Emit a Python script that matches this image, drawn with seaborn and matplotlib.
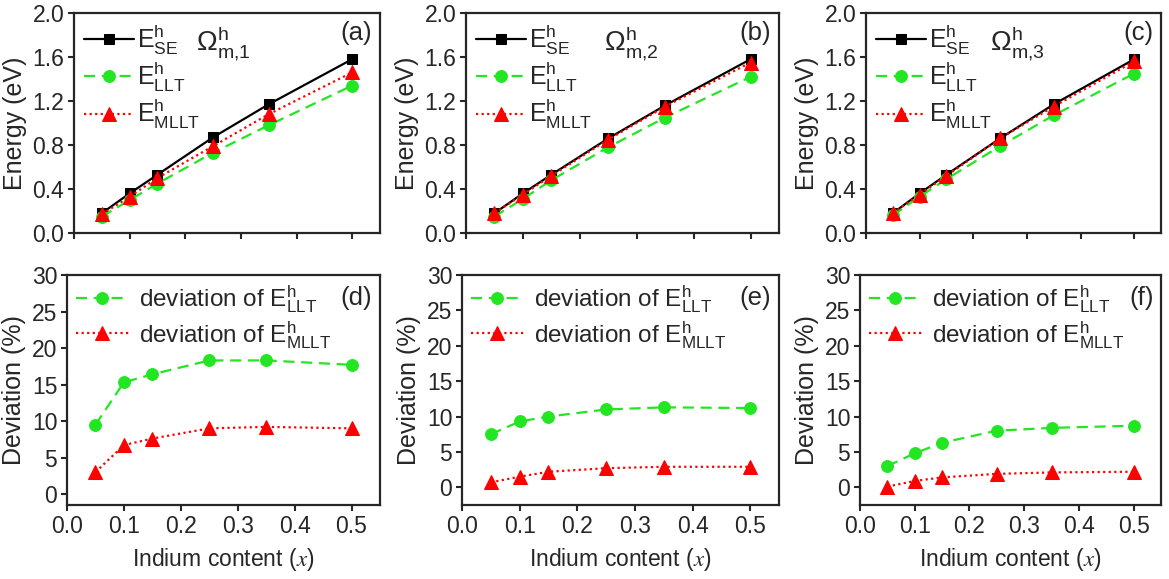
import matplotlib
matplotlib.use("Agg")
import matplotlib.pyplot as plt
import seaborn as sns
import pandas as pd

sns.set_style("ticks")
plt.rcParams['font.family'] = ['Liberation Sans', 'DejaVu Sans']
plt.rcParams['mathtext.fontset'] = 'stix'

x = [0.05, 0.10, 0.15, 0.25, 0.35, 0.50]

# Energies (eV)
se_1 = [0.18, 0.36, 0.53, 0.87, 1.17, 1.58]
llt_1 = [0.15, 0.30, 0.45, 0.73, 0.98, 1.34]
mllt_1 = [0.17, 0.33, 0.50, 0.79, 1.08, 1.46]

se_2 = [0.18, 0.36, 0.53, 0.86, 1.16, 1.58]
llt_2 = [0.15, 0.31, 0.48, 0.78, 1.05, 1.42]
mllt_2 = [0.18, 0.35, 0.52, 0.85, 1.15, 1.55]

se_3 = [0.18, 0.36, 0.53, 0.86, 1.17, 1.58]
llt_3 = [0.16, 0.33, 0.49, 0.79, 1.07, 1.45]
mllt_3 = [0.18, 0.35, 0.52, 0.86, 1.15, 1.56]

# Deviations (%)
dev_llt_1 = [9.5, 15.3, 16.4, 18.3, 18.3, 17.7]
dev_mllt_1 = [3.0, 6.7, 7.6, 9.0, 9.2, 9.0]
dev_llt_2 = [7.5, 9.3, 10.0, 11.0, 11.3, 11.2]
dev_mllt_2 = [0.7, 1.5, 2.2, 2.7, 2.9, 2.9]
dev_llt_3 = [3.0, 4.8, 6.3, 8.0, 8.4, 8.7]
dev_mllt_3 = [0.1, 0.9, 1.4, 1.9, 2.1, 2.2]

omega_labels = [r'$\mathregular{\Omega^{h}_{m{,}1}}$', r'$\mathregular{\Omega^{h}_{m{,}2}}$',
                r'$\mathregular{\Omega^{h}_{m{,}3}}$']
omega_xpos = [0.40, 0.44, 0.42]
top_tags = ['(a)', '(b)', '(c)']
bot_tags = ['(d)', '(e)', '(f)']
energy_ticks = [0.0, 0.4, 0.8, 1.2, 1.6, 2.0]
dev_ticks = [0, 5, 10, 15, 20, 25, 30]
x_ticks = [0.0, 0.1, 0.2, 0.3, 0.4, 0.5]
dev_ylow = [-1.5, -2.5, -2.5]

BLACK = 'black'
GREEN = '#22e622'
RED = '#ff0000'

W, H = 1169, 579
fig = plt.figure(figsize=(W / 100, H / 100), dpi=100)

top_boxes = [(74, 380), (466, 779), (866, 1161)]
bot_boxes = [(67, 380), (462, 779), (860, 1161)]

def rect(l, r, t, b):
    return [l / W, 1 - b / H, (r - l) / W, (b - t) / H]

energies = [(se_1, llt_1, mllt_1), (se_2, llt_2, mllt_2), (se_3, llt_3, mllt_3)]
devs = [(dev_llt_1, dev_mllt_1), (dev_llt_2, dev_mllt_2), (dev_llt_3, dev_mllt_3)]

def style_ax(ax):
    for s in ax.spines.values():
        s.set_linewidth(1.6)
        s.set_visible(True)
    ax.tick_params(axis='both', direction='out', length=4, width=1.5,
                   labelsize=16.5, top=False, right=False, pad=3)

lw = 1.6
for i in range(3):
    ax = fig.add_axes(rect(top_boxes[i][0], top_boxes[i][1], 13, 233))
    se, llt, mllt = energies[i]
    sns.lineplot(x=x, y=se, ax=ax, color=BLACK, marker='s', markersize=7.5,
                 markeredgecolor=BLACK, lw=lw, linestyle='-',
                 label=r'$\mathregular{E^{h}_{SE}}$')
    sns.lineplot(x=x, y=llt, ax=ax, color=GREEN, marker='o', markersize=8.5,
                 markeredgecolor=GREEN, lw=lw, linestyle=(0, (5, 3)),
                 label=r'$\mathregular{E^{h}_{LLT}}$')
    sns.lineplot(x=x, y=mllt, ax=ax, color=RED, marker='^', markersize=9.5,
                 markeredgecolor=RED, lw=lw, linestyle=(0, (1, 1.5)),
                 label=r'$\mathregular{E^{h}_{MLLT}}$')
    ax.set_xlim(0, 0.55)
    ax.set_ylim(0, 2.0)
    ax.set_xticks(x_ticks)
    ax.set_xticklabels([])
    ax.set_yticks(energy_ticks)
    ax.set_yticklabels([f'{v:.1f}' for v in energy_ticks])
    ax.set_xlabel('')
    ax.set_ylabel('Energy (eV)', fontsize=18, labelpad=4)
    style_ax(ax)
    ax.legend(loc='upper left', frameon=False, fontsize=18, handlelength=2.0,
              borderaxespad=0.1, labelspacing=0.12, handletextpad=0.12,
              borderpad=0.3)
    ax.text(omega_xpos[i], 0.86, omega_labels[i], transform=ax.transAxes, fontsize=20,
            ha='left', va='center')
    ax.text(0.975, 0.91, top_tags[i], transform=ax.transAxes, fontsize=18.5,
            ha='right', va='center')

for i in range(3):
    ax = fig.add_axes(rect(bot_boxes[i][0], bot_boxes[i][1], 275, 505))
    dl, dm = devs[i]
    sns.lineplot(x=x, y=dl, ax=ax, color=GREEN, marker='o', markersize=8.5,
                 markeredgecolor=GREEN, lw=lw, linestyle=(0, (5, 3)),
                 label=r'deviation of $\mathregular{E^{h}_{LLT}}$')
    sns.lineplot(x=x, y=dm, ax=ax, color=RED, marker='^', markersize=9.5,
                 markeredgecolor=RED, lw=lw, linestyle=(0, (1, 1.5)),
                 label=r'deviation of $\mathregular{E^{h}_{MLLT}}$')
    ax.set_xlim(0, 0.55)
    ax.set_ylim(dev_ylow[i], 30)
    ax.set_xticks(x_ticks)
    ax.set_xticklabels([f'{v:.1f}' for v in x_ticks])
    ax.set_yticks(dev_ticks)
    ax.set_ylabel('Deviation (%)', fontsize=18, labelpad=4)
    ax.set_xlabel(r'Indium content ($x$)', fontsize=16.5, labelpad=6)
    style_ax(ax)
    ax.legend(loc='upper left', frameon=False, fontsize=17.5, handlelength=2.2,
              borderaxespad=0.1, labelspacing=0.15, handletextpad=0.4,
              borderpad=0.25)
    ax.text(0.975, 0.9, bot_tags[i], transform=ax.transAxes, fontsize=18.5,
            ha='right', va='center')

fig.savefig('out.png', dpi=100)
